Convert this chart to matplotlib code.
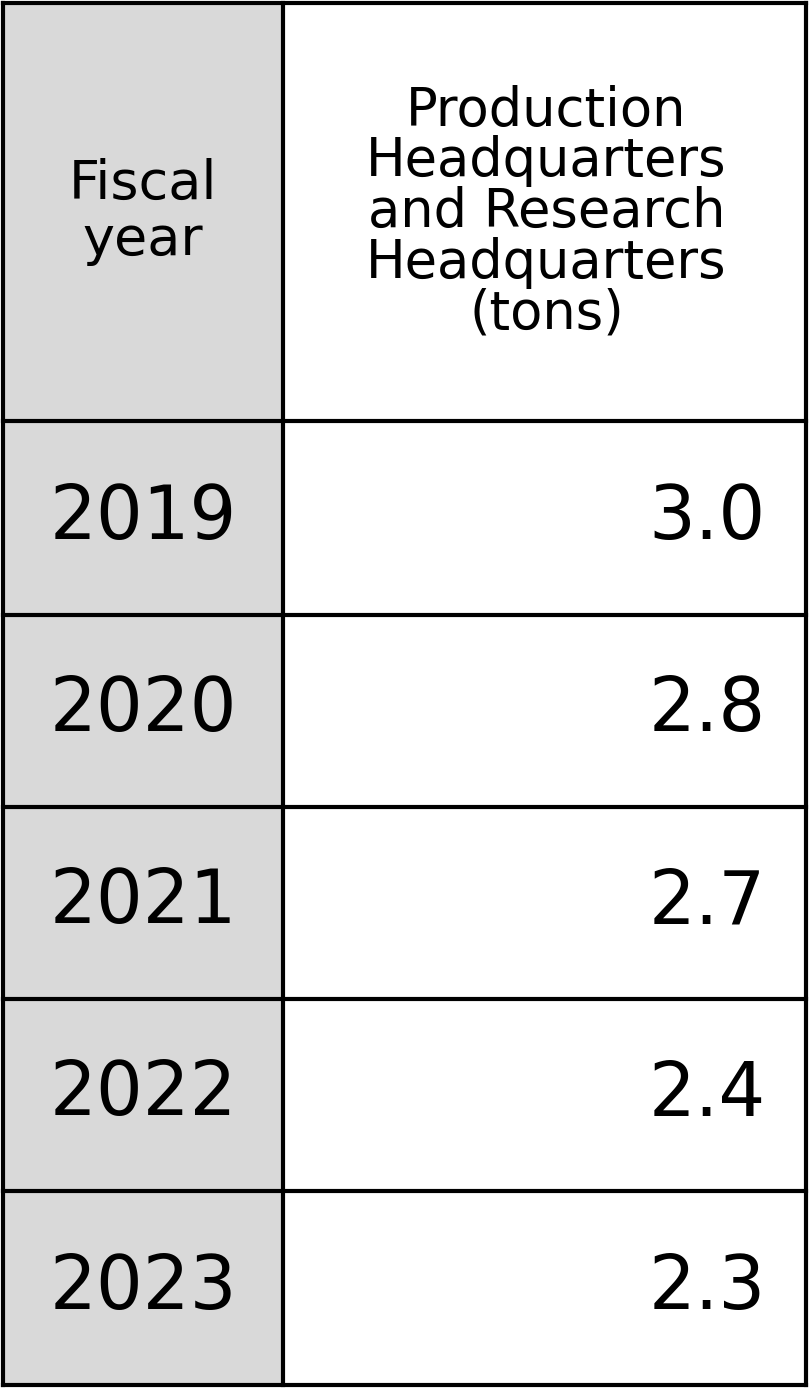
import matplotlib
matplotlib.use("Agg")
import matplotlib.pyplot as plt
from matplotlib.patches import Rectangle

plt.rcParams["font.family"] = ["DejaVu Sans"]

# ─── Data ─────────────────────────────────────────────────────────────────────
years = ["2019", "2020", "2021", "2022", "2023"]
values = [3.0, 2.8, 2.7, 2.4, 2.3]
header_left = "Fiscal\nyear"
header_right = "Production\nHeadquarters\nand Research\nHeadquarters\n(tons)"

W, H = 811, 1389
fig = plt.figure(figsize=(W / 100, H / 100), dpi=100)
ax = fig.add_axes([0, 0, 1, 1])
ax.set_xlim(0, W)
ax.set_ylim(H, 0)
ax.axis("off")

x0, xm, x1 = 3, 283, 806
row_edges = [3, 421, 615, 807, 999, 1191, 1385]

# gray first column
ax.add_patch(Rectangle((x0, row_edges[0]), xm - x0, row_edges[-1] - row_edges[0],
                       facecolor="#d9d9d9", edgecolor="none"))

lw = 3
for y in row_edges:
    ax.plot([x0, x1], [y, y], color="black", lw=lw, solid_capstyle="projecting")
for x in (x0, xm, x1):
    ax.plot([x, x], [row_edges[0], row_edges[-1]], color="black", lw=lw,
            solid_capstyle="projecting")

# header
hy = (row_edges[0] + row_edges[1]) / 2
ax.text((x0 + xm) / 2, hy, header_left, ha="center", va="center",
        fontsize=39, linespacing=1.1)
ax.text((xm + x1) / 2 + 2, hy, header_right, ha="center", va="center",
        fontsize=38, linespacing=0.97)

# body
for i, (yr, v) in enumerate(zip(years, values)):
    cy = (row_edges[i + 1] + row_edges[i + 2]) / 2
    ax.text((x0 + xm) / 2, cy, yr, ha="center", va="center", fontsize=53)
    ax.text(766, cy, f"{v:.1f}", ha="right", va="center", fontsize=53)

fig.savefig("out.png", dpi=100)
